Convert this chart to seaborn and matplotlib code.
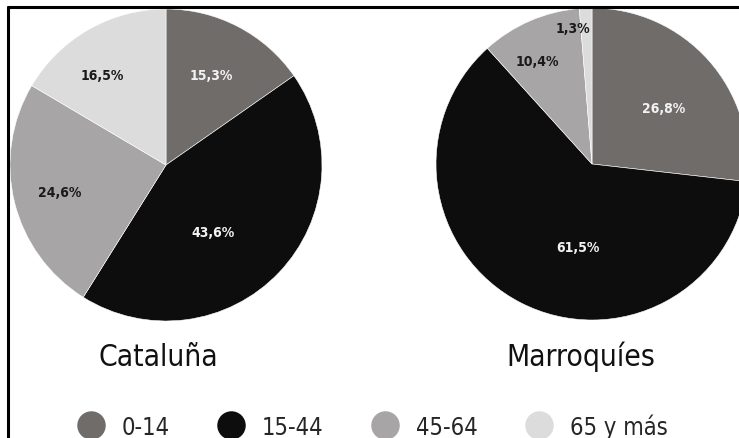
import matplotlib
matplotlib.use("Agg")
import matplotlib.pyplot as plt
from matplotlib.lines import Line2D
import seaborn as sns

sns.set_theme(style="white")
plt.rcParams['font.family'] = ['DejaVu Sans']

# datos
grupos = ["0-14", "15-44", "45-64", "65 y más"]
cataluna = [15.3, 43.6, 24.6, 16.5]
marroquies = [26.8, 61.5, 10.4, 1.3]
titulos = ["Cataluña", "Marroquíes"]

# estilo
colores = ["#6f6c6a", "#0d0d0d", "#a7a5a5", "#dcdcdc"]
color_txt = ["#f2f2f2", "#f2f2f2", "#1a1a1a", "#1a1a1a"]
# posicion de las etiquetas (en radios, respecto al centro)
pos_cat = [(0.29, 0.58), (0.30, -0.43), (-0.68, -0.17), (-0.41, 0.58)]
pos_mar = [(0.46, 0.36), (-0.09, -0.53), (-0.35, 0.66), (-0.12, 0.87)]

W, H = 739, 439
fig = plt.figure(figsize=(W / 100, H / 100), dpi=100)


def px_axes(x0, y0, w, h):
    return fig.add_axes([x0 / W, (H - y0 - h) / H, w / W, h / H])


def tarta(ax, valores, posiciones):
    ax.pie(valores, colors=colores, startangle=90, counterclock=False,
           wedgeprops=dict(linewidth=0.4, edgecolor="white"))
    for v, (x, y), c in zip(valores, posiciones, color_txt):
        ax.text(x, y, f"{v:.1f}%".replace(".", ","), ha="center", va="center",
                color=c, fontsize=10, fontweight="bold", fontstretch="condensed")
    ax.set_xlim(-1, 1)
    ax.set_ylim(-1, 1)
    ax.set_aspect("equal")
    ax.axis("off")


ax1 = px_axes(10, 10, 312, 312)
tarta(ax1, cataluna, pos_cat)
ax2 = px_axes(436, 9, 312, 312)
tarta(ax2, marroquies, pos_mar)

# titulos
fig.text(158 / W, (H - 366) / H, titulos[0], ha="center", va="baseline",
         fontsize=21.5, color="#111111", fontstretch="condensed")
fig.text(581 / W, (H - 366) / H, titulos[1], ha="center", va="baseline",
         fontsize=21.5, color="#111111", fontstretch="condensed")

# leyenda
handles = [Line2D([], [], marker="o", linestyle="", markersize=19.5,
                  markerfacecolor=c, markeredgecolor=c) for c in colores]
fig.legend(handles, grupos, loc="center left", bbox_to_anchor=(77 / W, (H - 427) / H),
           ncol=4, frameon=False, handlelength=1.2, handletextpad=0.7,
           columnspacing=2.0, borderpad=0, borderaxespad=0,
           prop=dict(size=17, stretch="condensed"))

# marco
fig.add_artist(Line2D([8 / W, 8 / W], [0, (H - 8) / H], color="black", lw=2.2))
fig.add_artist(Line2D([8 / W, 1], [(H - 8) / H, (H - 8) / H], color="black", lw=2.2))

fig.savefig("out.png", dpi=100)
